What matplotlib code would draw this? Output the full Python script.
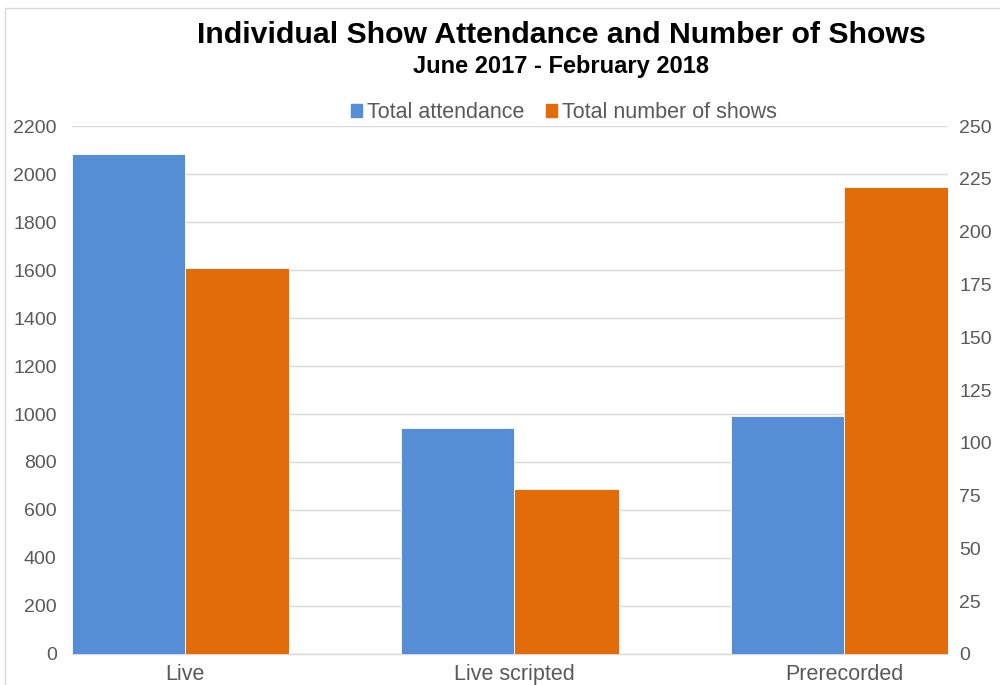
import matplotlib.pyplot as plt
import numpy as np
from matplotlib.patches import Rectangle, Patch

plt.rcParams["font.family"] = ["Liberation Sans", "DejaVu Sans"]

CATEGORIES = ["Live", "Live scripted", "Prerecorded"]
ATTENDANCE = [2082, 941, 990]
SHOWS = [183, 78, 221]

BLUE = "#558ED5"
ORANGE = "#E36C0A"
GRAY = "#595959"
GRID = "#D9D9D9"

fig = plt.figure(figsize=(10, 6.85), dpi=100)
ax = fig.add_axes([0.072, 0.0453, 0.876, 0.7707])
ax2 = ax.twinx()

x = np.arange(len(CATEGORIES))
w_blue = 0.343
w_orange = 0.316

ax.bar(x - w_blue, ATTENDANCE, width=w_blue, align="edge", color=BLUE,
       edgecolor="white", linewidth=0.6, zorder=3)
ax2.bar(x, SHOWS, width=w_orange, align="edge", color=ORANGE,
        edgecolor="white", linewidth=0.6, zorder=3)

ax.set_xlim(-w_blue, 2 + w_orange)
ax.set_ylim(0, 2200)
ax2.set_ylim(0, 250)
ax.set_yticks(np.arange(0, 2201, 200))
ax2.set_yticks(np.arange(0, 251, 25))
ax.yaxis.grid(True, color=GRID, linewidth=1)
ax.set_axisbelow(True)

ax.set_xticks(x)
ax.set_xticklabels(CATEGORIES, fontsize=15.5, color=GRAY)
ax.tick_params(axis="x", length=0, pad=7)
ax.tick_params(axis="y", length=0, labelsize=14, labelcolor=GRAY, pad=11)
ax2.tick_params(axis="y", length=0, labelsize=14, labelcolor=GRAY, pad=8)

for a in (ax, ax2):
    for side in ("top", "left", "right"):
        a.spines[side].set_visible(False)
    a.spines["bottom"].set_color(GRID)
    a.spines["bottom"].set_linewidth(1)
ax2.spines["bottom"].set_visible(False)

handles = [Patch(color=BLUE, label="Total attendance"),
           Patch(color=ORANGE, label="Total number of shows")]
ax.legend(handles=handles, loc="lower center", bbox_to_anchor=(0.562, 0.989), ncol=2,
          frameon=False, fontsize=15.5, labelcolor=GRAY, handlelength=0.5,
          handleheight=0.6, handletextpad=0.25, columnspacing=1.0, borderaxespad=0.0)

fig.text(0.561, 0.949, "Individual Show Attendance and Number of Shows",
         ha="center", va="center", fontsize=21.8, fontweight="bold", color="black")
fig.text(0.561, 0.903, "June 2017 - February 2018",
         ha="center", va="center", fontsize=17, fontweight="bold", color="black")

fig.patches.append(Rectangle((0.005, -0.1), 1.2, 1 - 8 / 685 + 0.1,
                             transform=fig.transFigure, fill=False,
                             edgecolor=GRID, linewidth=1))

fig.savefig("out.png", dpi=100)
